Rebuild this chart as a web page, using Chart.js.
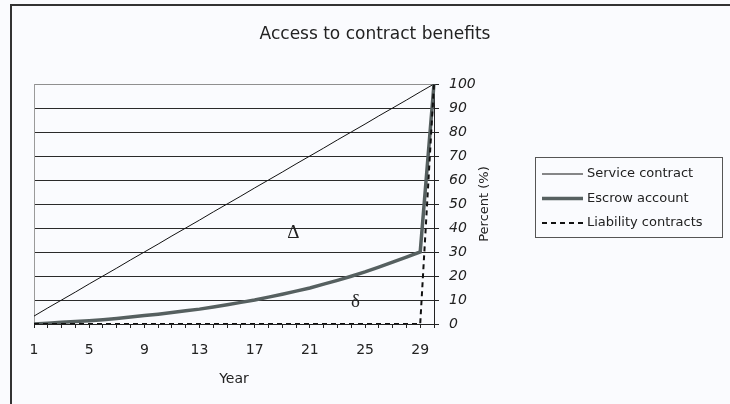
<!DOCTYPE html>
<html>
<head>
<meta charset="utf-8">
<title>Access to contract benefits</title>
<script src="https://cdn.jsdelivr.net/npm/chart.js@4.4.1/dist/chart.umd.min.js"></script>
<style>
  html, body { margin: 0; padding: 0; background: #fafbfe; }
  canvas { display: block; }
</style>
</head>
<body>
<canvas id="chart" width="730" height="404"></canvas>
<script>
// Contract years on the horizontal axis
const years = ['1','2','3','4','5','6','7','8','9','10','11','12','13','14','15',
               '16','17','18','19','20','21','22','23','24','25','26','27','28','29','30'];

// Share of benefits accessible (%) by year
const serviceContract = [3.3, 6.7, 10, 13.3, 16.7, 20, 23.3, 26.7, 30, 33.3,
                         36.7, 40, 43.3, 46.7, 50, 53.3, 56.7, 60, 63.3, 66.7,
                         70, 73.3, 76.7, 80, 83.3, 86.7, 90, 93.3, 96.7, 100];
const escrowAccount   = [0, 0.3, 0.7, 1.0, 1.4, 1.8, 2.3, 2.9, 3.5, 4.1,
                         4.8, 5.5, 6.2, 7.1, 8.0, 9.0, 10.0, 11.2, 12.4, 13.7,
                         15.0, 16.6, 18.2, 19.9, 21.7, 23.7, 25.8, 27.9, 30.0, 100];
const liabilityContracts = [0, 0, 0, 0, 0, 0, 0, 0, 0, 0,
                            0, 0, 0, 0, 0, 0, 0, 0, 0, 0,
                            0, 0, 0, 0, 0, 0, 0, 0, 0, 100];

// Percent axis ticks
const percentTicks = [0, 10, 20, 30, 40, 50, 60, 70, 80, 90, 100];

// Gap markers placed in data units (year, percent)
const gapMarkers = [
  { text: 'Δ', year: 19.8, value: 38 },
  { text: 'δ', year: 24.3, value: 9 }
];

const FONT = 'DejaVu Sans';
const INK = '#222222';

const decor = {
  id: 'decor',
  beforeDraw(chart) {
    const { ctx, width, height } = chart;
    ctx.save();
    ctx.fillStyle = '#fafbfe';
    ctx.fillRect(0, 0, width, height);
    // outer frame (top and left edges)
    ctx.strokeStyle = '#333333';
    ctx.lineWidth = 2;
    ctx.beginPath();
    ctx.moveTo(11, height);
    ctx.lineTo(11, 5);
    ctx.lineTo(width, 5);
    ctx.stroke();
    ctx.restore();
  },
  beforeDatasetsDraw(chart) {
    const { ctx, chartArea: a } = chart;
    ctx.save();
    ctx.strokeStyle = '#9a9a9a';
    ctx.lineWidth = 1;
    ctx.beginPath();
    ctx.moveTo(a.left + 0.5, a.bottom);
    ctx.lineTo(a.left + 0.5, a.top);
    ctx.stroke();
    ctx.restore();
  },
  afterDraw(chart) {
    const { ctx, chartArea: a, scales } = chart;
    ctx.save();

    // percent axis title, reading bottom to top
    ctx.translate(485, (a.top + a.bottom) / 2);
    ctx.rotate(-Math.PI / 2);
    ctx.fillStyle = INK;
    ctx.font = '13px "' + FONT + '"';
    ctx.textAlign = 'center';
    ctx.textBaseline = 'middle';
    ctx.fillText('Percent (%)', 0, 0);
    ctx.setTransform(1, 0, 0, 1, 0, 0);

    // gap markers
    ctx.font = '19px "Liberation Serif"';
    ctx.textAlign = 'center';
    ctx.textBaseline = 'middle';
    gapMarkers.forEach(m => {
      const x = scales.x.getPixelForValue(m.year - 1);
      const y = scales.y.getPixelForValue(m.value);
      ctx.fillText(m.text, x, y);
    });

    // legend box
    const bx = 535, by = 157, bw = 187, bh = 80;
    ctx.fillStyle = '#fafbfe';
    ctx.fillRect(bx, by, bw, bh);
    ctx.strokeStyle = '#555555';
    ctx.lineWidth = 1;
    ctx.strokeRect(bx + 0.5, by + 0.5, bw, bh);
    ctx.font = '13px "' + FONT + '"';
    ctx.textAlign = 'left';
    ctx.textBaseline = 'middle';
    chart.data.datasets.forEach((ds, i) => {
      const y = by + 17 + i * 24.5;
      ctx.save();
      ctx.strokeStyle = ds.borderColor;
      ctx.lineWidth = ds.borderWidth;
      ctx.setLineDash(ds.borderDash || []);
      ctx.beginPath();
      ctx.moveTo(bx + 7, y);
      ctx.lineTo(bx + 48, y);
      ctx.stroke();
      ctx.restore();
      ctx.fillStyle = INK;
      ctx.fillText(ds.label, bx + 52, y);
    });
    ctx.restore();
  }
};

new Chart(document.getElementById('chart'), {
  type: 'line',
  data: {
    labels: years,
    datasets: [
      { label: 'Service contract', data: serviceContract, borderColor: '#111111',
        borderWidth: 1, pointRadius: 0, tension: 0, order: 2 },
      { label: 'Escrow account', data: escrowAccount, borderColor: '#566060',
        borderWidth: 3.5, pointRadius: 0, tension: 0, order: 1 },
      { label: 'Liability contracts', data: liabilityContracts, borderColor: '#111111',
        borderWidth: 2, borderDash: [5, 4], pointRadius: 0, tension: 0, order: 0 }
    ]
  },
  options: {
    responsive: false,
    animation: false,
    layout: { padding: { left: 34, right: 14, top: 0, bottom: 0 } },
    plugins: {
      legend: { display: false },
      tooltip: { enabled: false },
      title: {
        display: true,
        text: 'Access to contract benefits',
        color: INK,
        font: { family: FONT, size: 17, weight: 'normal', lineHeight: '20px' },
        padding: { top: 25, bottom: 39 }
      }
    },
    scales: {
      x: {
        type: 'category',
        offset: false,
        grid: { display: true, drawOnChartArea: false, drawTicks: true, tickLength: 4,
                color: INK, tickColor: INK },
        border: { display: true, color: INK, width: 1 },
        ticks: {
          autoSkip: false, maxRotation: 0, minRotation: 0, padding: 14, color: INK,
          font: { family: FONT, size: 14 },
          callback: (v, i) => (i % 4 === 0 ? years[i] : '')
        },
        title: { display: true, text: 'Year', color: INK,
                 font: { family: FONT, size: 14 }, padding: { top: 0, bottom: 16 } },
        afterFit: s => { s.height = 80; }
      },
      y: {
        position: 'right',
        min: 0, max: 100,
        afterBuildTicks: s => { s.ticks = percentTicks.map(v => ({ value: v })); },
        grid: {
          color: c => (c.tick && c.tick.value === 100 ? '#8f8f8f' : '#2a2a2a'),
          tickColor: INK, tickLength: 5, lineWidth: 1
        },
        border: { display: true, color: INK, width: 1 },
        ticks: { padding: 10, color: INK, font: { family: FONT, size: 14, style: 'italic' } },
        afterFit: s => { s.width = 282; }
      }
    }
  },
  plugins: [decor]
});
</script>
</body>
</html>
